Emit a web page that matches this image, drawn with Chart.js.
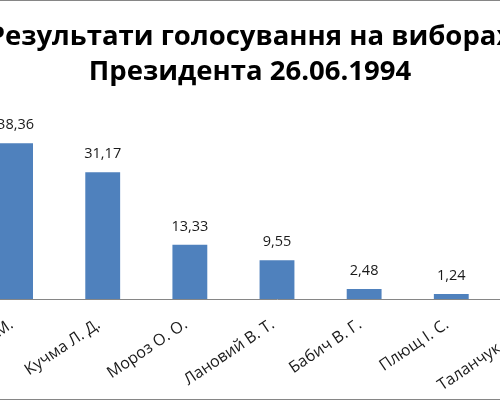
<!DOCTYPE html>
<html>
<head>
<meta charset="utf-8">
<script src="https://cdn.jsdelivr.net/npm/chart.js@4/dist/chart.umd.min.js"></script>
<style>
  html, body { margin: 0; padding: 0; background: #fff; overflow: hidden; width: 500px; height: 400px; }
  #frame { position: absolute; left: -100px; top: 0; width: 700px; height: 400px; box-sizing: border-box; border: 1px solid #868686; background: #fff; }
  canvas { display: block; }
</style>
</head>
<body>
<div id="frame"><canvas id="c" width="698" height="398"></canvas></div>
<script>
const titleLines = ['Результати голосування на виборах', 'Президента 26.06.1994'];
const categories = ['Кравчук Л. М.', 'Кучма Л. Д.', 'Мороз О. О.', 'Лановий В. Т.', 'Бабич В. Г.', 'Плющ І. С.', 'Таланчук П. М.'];
const votes = [38.36, 31.17, 13.33, 9.55, 2.48, 1.24, 0.57];

const valueLabels = {
  id: 'valueLabels',
  afterDatasetsDraw(chart) {
    const ctx = chart.ctx;
    const meta = chart.getDatasetMeta(0);
    ctx.save();
    ctx.font = '14.5px "Open Sans"';
    ctx.fillStyle = '#1a1a1a';
    ctx.textAlign = 'center';
    ctx.textBaseline = 'middle';
    meta.data.forEach((bar, i) => {
      const v = chart.data.datasets[0].data[i];
      ctx.fillText(v.toFixed(2).replace('.', ','), bar.x, bar.y - 18);
    });
    ctx.restore();
  }
};

new Chart(document.getElementById('c'), {
  type: 'bar',
  data: {
    labels: categories,
    datasets: [{
      data: votes,
      backgroundColor: '#4F81BD',
      borderWidth: 0,
      barPercentage: 0.4,
      categoryPercentage: 1.0
    }]
  },
  options: {
    responsive: false,
    animation: false,
    devicePixelRatio: 1,
    layout: { padding: { left: 17, right: 17, top: 0, bottom: 0 } },
    plugins: {
      legend: { display: false },
      tooltip: { enabled: false },
      title: {
        display: true,
        text: titleLines,
        color: '#000',
        font: { family: '"Open Sans"', size: 27.5, weight: 'bold', lineHeight: 1.27 },
        padding: { top: 19, bottom: 6 }
      }
    },
    scales: {
      x: {
        grid: { display: false, drawTicks: false, tickLength: 0 },
        border: { display: true, color: '#868686', width: 1 },
        ticks: {
          color: '#1a1a1a',
          font: { family: '"Open Sans"', size: 16 },
          minRotation: 34,
          maxRotation: 34,
          padding: 16,
          labelOffset: -4,
          autoSkip: false
        },
        afterFit(scale) { scale.height = 100; }
      },
      y: {
        display: true,
        min: 0,
        max: 50,
        grid: { display: false, drawTicks: false },
        border: { display: false },
        ticks: { display: false },
        afterFit(scale) { scale.width = 54; }
      }
    }
  },
  plugins: [valueLabels]
});
</script>
</body>
</html>
